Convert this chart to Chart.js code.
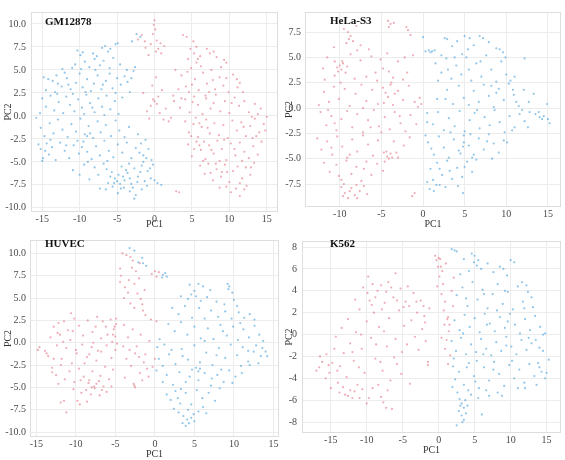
<!DOCTYPE html>
<html><head><meta charset="utf-8">
<script src="https://cdn.jsdelivr.net/npm/chart.js@4.4.1/dist/chart.umd.min.js"></script>
<style>
html,body{margin:0;padding:0;background:#fff;width:565px;height:460px;overflow:hidden}
.p{position:absolute}
.t{position:absolute;font:bold 11px "Liberation Serif",serif;color:#111;white-space:nowrap;line-height:12px}
</style></head><body>
<div class="p" style="left:0;top:0;width:283px;height:230px"><canvas id="c1"></canvas></div>
<div class="p" style="left:283px;top:0;width:282px;height:230px"><canvas id="c2"></canvas></div>
<div class="p" style="left:0;top:230px;width:283px;height:230px"><canvas id="c3"></canvas></div>
<div class="p" style="left:283px;top:230px;width:282px;height:230px"><canvas id="c4"></canvas></div>
<div class="t" id="t1" style="left:45px;top:15px"></div>
<div class="t" id="t2" style="left:330px;top:14px"></div>
<div class="t" id="t3" style="left:45px;top:237px"></div>
<div class="t" id="t4" style="left:330px;top:237px"></div>
<script>
const panelNames = ['GM12878','HeLa-S3','HUVEC','K562'];
const xTitle = 'PC1', yTitle = 'PC2';

const gmBlue = [[-10.3,7.1],[-9.6,6.9],[-9.9,6.6],[-7.0,7.4],[-6.6,7.6],[-5.9,7.3],[-5.2,7.8],[-4.9,7.9],[-6.2,7.0],[-3.0,8.1],[-8.2,6.8],
[-11.0,5.2],[-10.6,5.6],[-9.3,5.9],[-8.7,5.3],[-8.0,6.2],[-7.3,5.5],[-6.8,6.0],[-6.0,5.2],[-5.5,6.3],[-4.6,5.6],[-3.7,5.0],[-2.6,5.3],[-2.8,4.9],[-12.3,5.1],[-7.9,5.0],
[-14.8,4.2],[-14.2,4.0],[-13.6,3.8],[-13.1,4.4],[-12.4,3.2],[-11.7,4.1],[-11.2,2.9],[-10.5,3.6],[-10.0,4.6],[-9.6,3.1],[-9.0,4.0],[-8.5,2.7],[-8.1,3.5],[-7.6,4.4],[-7.1,2.9],[-6.5,3.8],[-6.0,4.6],[-5.6,3.0],[-5.0,4.1],[-4.5,3.4],[-4.0,4.3],[-3.6,3.7],[-3.1,4.1],[-14.5,2.8],[-13.3,2.6],[-12.0,4.7],[-9.2,2.6],[-6.9,3.4],
[-15.0,1.9],[-14.5,1.0],[-13.9,2.2],[-13.4,0.6],[-12.8,1.5],[-12.2,0.3],[-11.8,2.1],[-11.3,1.2],[-10.7,0.5],[-10.2,1.8],[-9.7,0.9],[-9.1,2.3],[-8.6,1.4],[-8.0,0.4],[-7.5,1.9],[-7.0,1.0],[-6.4,2.2],[-5.9,0.7],[-5.3,1.6],[-4.8,0.2],[-4.3,2.0],[-15.3,0.3],[-13.0,2.4],[-9.4,0.2],[-6.7,0.1],
[-15.8,-0.2],[-15.2,-1.3],[-14.7,-2.2],[-14.0,-0.8],[-13.5,-1.9],[-12.9,-0.4],[-12.3,-1.5],[-11.6,-2.3],[-11.1,-0.9],[-10.5,-1.7],[-9.9,-0.3],[-9.3,-2.0],[-8.8,-1.1],[-8.2,-2.4],[-7.6,-0.6],[-7.2,-1.8],[-6.5,-1.0],[-5.8,-2.2],[-5.2,-0.5],[-4.7,-1.6],[-4.0,-2.3],[-3.4,-1.2],[-8.6,-1.9],[-9.0,-2.2],
[-15.5,-3.1],[-15.2,-3.6],[-14.9,-4.6],[-14.4,-3.0],[-14.1,-4.2],[-13.7,-3.4],[-13.2,-4.8],[-12.6,-2.9],[-12.0,-3.8],[-11.4,-4.6],[-10.8,-3.2],[-10.1,-4.1],[-9.5,-2.8],[-9.0,-3.9],[-8.4,-4.7],[-7.8,-3.3],[-7.3,-4.3],[-6.7,-2.7],[-6.1,-3.8],[-5.5,-4.5],[-4.9,-3.1],[-4.3,-4.0],[-3.7,-2.9],[-3.1,-4.6],[-2.5,-3.5],[-1.8,-3.0],[-1.5,-4.3],[-1.2,-2.6],[-0.8,-3.6],[-0.4,-4.8],[-15.0,-4.9],
[-10.9,-5.9],[-10.0,-6.4],[-9.4,-5.3],[-8.7,-6.9],[-8.0,-5.6],[-7.5,-6.4],[-6.8,-5.2],[-6.2,-7.3],[-5.7,-6.1],[-5.3,-6.8],[-5.0,-7.1],[-4.8,-6.4],[-4.4,-5.5],[-4.0,-7.0],[-3.6,-6.2],[-3.1,-7.4],[-2.7,-5.7],[-2.2,-6.6],[-1.7,-5.4],[-1.3,-7.1],[-0.9,-6.0],[-0.5,-6.8],[-0.2,-5.3],[0.0,-7.0],[-5.4,-7.3],[-4.6,-7.4],
[-7.3,-7.9],[-6.5,-8.0],[-5.6,-7.7],[-4.9,-8.4],[-4.1,-7.8],[-3.3,-8.2],[-2.7,-9.0],[-2.5,-8.6],[-1.7,-8.0],[-1.0,-7.6],[0.4,-7.3],[0.9,-7.5],
[-2.4,8.9],[-1.9,8.6],
[-4.2,-6.6],[-3.8,-5.9],[-3.3,-6.8],[-2.9,-7.8],[-2.3,-7.2],[-1.9,-6.1],[-1.5,-5.0],[-1.1,-4.6],[-0.6,-5.7],[-4.5,-7.9],[-5.9,-6.6],[-6.4,-5.8],[-2.0,-4.0],[-3.4,-5.2],[-12.9,3.5],[-11.5,3.4],[-10.9,2.4],[-10.3,-2.7],[-9.7,-3.4],[-8.9,-5.0],[-11.8,-3.2],[-13.9,-2.6],[-14.6,-3.8],[-7.7,6.5],[-9.8,5.1],[-5.2,2.5],[-3.3,2.6],[-2.2,-2.0],[-6.3,-4.9],[-8.3,0.9]];

const gmRed = [[0.0,10.4],[-0.1,9.9],[0.1,9.4],[-0.2,8.9],[0.3,8.2],[-0.5,7.8],[0.5,7.3],[0.8,7.9],[-1.2,7.4],[-1.7,8.8],[-2.2,8.3],[-1.3,8.1],[0.9,6.8],[0.2,7.0],[-0.8,6.6],[1.3,7.6],
[0.0,1.6],[0.5,2.1],[-0.5,1.1],[-1.0,0.5],[1.5,0.8],[2.2,-0.2],[1.9,-0.6],[-1.5,2.5],[-0.3,3.3],[0.2,4.2],[0.3,1.3],[-0.2,1.8],[1.0,2.8],[-0.7,-0.3],[2.6,1.6],[1.2,-0.4],[0.7,0.3],
[3.8,8.8],[4.3,8.6],[5.2,8.1],[5.6,7.5],[4.8,7.3],[7.0,7.3],[7.4,6.8],[7.9,7.0],[9.3,6.1],[9.6,5.8],[4.5,6.2],[6.1,6.5],[5.3,6.8],[8.3,6.4],
[2.8,5.0],[3.6,4.4],[4.2,3.2],[4.9,5.2],[5.4,4.0],[5.9,2.8],[6.5,4.7],[7.0,3.5],[7.6,5.0],[8.1,2.9],[8.7,4.2],[9.2,3.3],[9.9,2.6],[10.5,4.5],[11.0,4.0],[11.4,3.6],[11.1,3.1],[6.2,5.4],[3.2,2.9],[4.6,2.6],[7.3,2.6],[8.9,5.3],
[2.5,2.2],[3.4,0.9],[4.1,1.8],[4.7,0.4],[5.3,2.1],[5.8,1.2],[6.4,0.2],[6.9,1.9],[7.5,0.8],[8.2,2.3],[8.8,0.5],[9.4,1.6],[10.0,0.3],[10.7,2.0],[11.3,1.1],[12.0,1.6],[12.6,0.4],[13.4,1.3],[14.2,0.8],[15.0,-0.1],[13.8,0.2],[5.1,1.5],[7.9,1.4],
[4.1,-0.6],[4.6,-1.8],[5.2,-0.9],[5.8,-2.3],[6.3,-1.2],[6.9,-0.4],[7.4,-1.9],[8.0,-0.8],[8.6,-2.1],[9.2,-1.0],[9.8,-2.4],[10.4,-0.5],[11.0,-1.6],[11.6,-0.7],[12.2,-2.2],[12.8,-1.1],[13.4,-0.3],[14.0,-1.8],[14.6,-0.9],[13.1,-2.4],[7.1,-1.3],[5.5,-0.2],
[4.5,-3.1],[5.0,-4.4],[5.6,-2.8],[6.2,-3.7],[6.8,-4.7],[7.3,-3.2],[7.9,-4.1],[8.4,-2.7],[9.0,-3.6],[9.6,-4.8],[10.2,-3.0],[10.8,-4.3],[11.4,-2.9],[12.0,-3.9],[12.6,-4.6],[13.2,-3.3],[13.8,-4.2],[14.3,-2.8],[6.5,-4.9],[8.7,-4.9],[11.7,-4.9],[5.3,-3.6],
[6.1,-5.4],[6.7,-6.3],[7.2,-5.2],[7.8,-7.0],[8.3,-5.8],[8.9,-6.6],[9.4,-5.3],[10.0,-7.2],[10.5,-6.0],[11.1,-5.5],[11.7,-6.8],[12.2,-5.6],[12.8,-6.4],[13.3,-5.1],[9.7,-6.1],[7.5,-6.2],
[9.6,-7.7],[10.2,-8.3],[10.9,-7.9],[11.4,-8.7],[12.0,-8.0],[12.3,-7.6],[2.9,-8.2],[3.3,-8.3],[8.7,-7.8],
[5.0,3.4],[5.6,5.8],[6.8,2.2],[7.8,3.9],[9.6,4.1],[6.0,-0.8],[6.6,-2.8],[7.6,-3.7],[8.2,-5.2],[9.3,-2.6],[10.7,-3.6],[11.9,-1.2],[12.9,-5.6],[13.6,-2.2],[14.8,-1.6],[10.3,1.4],[11.8,2.6],[13.0,-0.1],[4.4,4.8],[5.8,6.2],[9.0,-6.1],[11.4,-7.3],[6.0,-3.2],[4.9,-2.2],[3.6,1.9]];

const helaRed = [[-9.5,7.8],[-9.0,7.5],[-8.7,7.1],[-8.0,8.1],[-8.4,6.6],[-7.5,6.2],[-4.2,8.6],[-3.9,8.3],[-4.1,8.0],[-3.5,8.4],[-2.0,8.0],[-1.8,7.7],[-1.5,7.2],[-10.7,6.0],[-6.5,5.8],
[-11.5,5.0],[-10.6,4.6],[-10.0,4.2],[-9.8,3.8],[-9.6,4.4],[-9.3,3.5],[-10.2,3.6],[-8.7,5.3],[-8.2,2.9],[-7.5,4.7],[-6.8,3.1],[-6.2,5.1],[-5.5,2.7],[-4.8,3.9],[-4.3,5.4],[-3.6,3.0],[-3.0,4.6],[-2.4,2.8],[-1.9,3.5],[-1.2,5.2],[-11.8,2.8],[-12.0,3.9],[-7.9,5.7],[-5.1,4.8],[-3.8,2.5],
[-12.5,0.3],[-11.9,1.6],[-11.3,0.6],[-10.7,2.1],[-10.1,0.9],[-9.4,1.9],[-8.8,0.2],[-8.1,1.4],[-7.4,2.3],[-6.8,0.7],[-6.1,1.8],[-5.4,0.4],[-4.8,2.0],[-4.2,1.1],[-3.6,0.3],[-3.0,1.7],[-2.4,0.8],[-1.7,2.2],[-1.0,0.6],[-0.4,1.0],[-0.2,0.4],[-0.6,0.1],[-4.5,1.5],[-3.9,2.3],
[-12.3,-0.4],[-11.6,-1.7],[-11.0,-0.8],[-10.4,-2.2],[-9.8,-1.1],[-9.1,-0.3],[-8.5,-1.9],[-7.9,-0.6],[-7.2,-2.4],[-6.6,-1.2],[-5.9,-0.2],[-5.3,-1.8],[-4.6,-0.9],[-4.0,-2.1],[-3.4,-0.4],[-2.7,-1.5],[-2.1,-2.3],[-1.5,-0.7],[-0.8,-1.6],[-5.0,-2.4],
[-12.7,-3.0],[-12.2,-4.1],[-11.5,-3.3],[-10.9,-4.6],[-10.3,-2.8],[-9.7,-3.8],[-9.1,-4.9],[-8.5,-3.1],[-7.9,-4.3],[-7.2,-2.7],[-6.6,-3.6],[-6.0,-4.7],[-5.4,-3.2],[-4.7,-4.4],[-4.3,-4.8],[-3.9,-4.5],[-3.5,-3.3],[-3.0,-4.9],[-2.3,-3.7],[-1.6,-2.9],[-4.1,-5.0],[-8.8,-4.6],
[-11.9,-5.4],[-11.2,-6.3],[-10.4,-5.6],[-9.8,-7.1],[-9.2,-5.2],[-8.6,-6.5],[-8.0,-5.8],[-7.4,-7.2],[-6.8,-5.3],[-6.2,-6.6],[-5.5,-5.5],[-4.8,-6.2],[-10.1,-6.7],[-7.1,-6.0],
[-9.8,-7.8],[-9.4,-8.4],[-9.0,-8.9],[-8.6,-7.9],[-8.2,-8.6],[-7.6,-8.2],[-7.1,-7.7],[-6.7,-8.5],[-9.6,-8.7],[-8.0,-7.6],[-1.0,-8.4],[-1.3,-8.7],
[-10.3,4.0],[-9.7,4.6],[-9.1,4.1],[-10.6,3.2],[-9.9,2.5],[-4.4,-4.3],[-3.7,-4.9],[-3.2,-4.4],[-4.6,-5.3],[-3.4,1.4],[-4.1,3.6],[-4.7,0.5],[-2.8,-0.8],[-9.5,-7.5],[-8.8,-8.2],[-7.9,-8.9],[-11.0,-3.9],[-10.6,-1.5],[-11.4,-0.2],[-9.2,6.4],[-8.9,6.8],[-7.2,0.0],[-6.3,-1.9],[-5.7,3.5],[-2.2,5.0]];

const helaBlue = [[0.3,5.6],[0.7,5.7],[1.1,5.6],[1.4,5.7],[0.9,5.5],[2.6,6.9],[2.9,6.8],[4.1,6.6],[5.0,7.1],[5.6,6.9],[6.8,7.1],[7.2,6.9],[8.8,5.9],[9.2,5.8],[9.6,5.5],[6.1,6.2],[3.5,6.1],[7.9,6.5],[0.0,7.0],
[1.5,4.4],[2.2,3.5],[2.8,4.9],[3.4,2.9],[4.0,4.2],[4.6,3.3],[5.2,5.0],[5.8,2.7],[6.4,4.4],[7.0,3.1],[7.6,5.2],[8.2,3.8],[8.8,2.6],[9.4,4.6],[10.0,3.3],[10.5,2.7],[11.0,3.1],[12.2,4.9],[3.0,3.8],[1.8,2.7],[5.5,3.8],[4.7,5.3],
[1.7,0.9],[2.9,1.8],[3.6,0.4],[4.3,2.2],[4.9,1.0],[5.5,0.3],[6.1,1.7],[6.7,0.6],[7.3,2.3],[7.9,1.2],[8.5,0.1],[9.1,1.9],[9.7,0.8],[10.3,2.4],[10.9,1.3],[11.5,0.2],[12.1,1.8],[12.7,0.6],[13.3,1.4],[14.9,0.4],[8.8,1.5],[11.2,0.6],
[0.5,-0.5],[1.2,-1.6],[1.8,-0.4],[2.5,-2.2],[3.1,-1.0],[3.8,-1.8],[4.4,-0.3],[5.0,-2.3],[5.6,-1.2],[6.2,-0.5],[6.8,-2.0],[7.4,-0.9],[8.0,-1.7],[8.6,-0.2],[9.2,-1.4],[9.8,-2.4],[10.4,-0.8],[11.0,-1.9],[11.6,-0.6],[12.2,-1.3],[12.8,-0.4],[13.5,-0.6],[14.0,-0.9],[14.5,-0.8],[15.2,-1.5],[15.0,-1.1],[10.7,-2.2],
[0.6,-3.4],[1.3,-4.6],[1.9,-2.8],[2.5,-3.9],[3.1,-4.9],[3.7,-3.1],[4.3,-4.2],[4.9,-2.7],[5.5,-3.7],[6.1,-4.6],[6.7,-3.0],[7.3,-4.1],[7.9,-2.6],[8.5,-3.5],[9.1,-4.4],[9.7,-3.2],[0.3,-2.7],[4.8,-3.8],[5.9,-4.9],
[0.5,-7.3],[1.2,-7.1],[0.9,-6.0],[1.7,-5.4],[2.3,-6.6],[2.9,-5.2],[3.5,-7.0],[4.1,-5.9],[4.7,-6.8],[5.3,-5.3],[5.9,-6.3],[6.4,-5.1],[3.2,-6.2],
[0.8,-8.0],[1.3,-8.2],[2.0,-7.6],[4.8,-8.4],[2.7,-7.8],[4.2,-7.7],
[2.2,5.2],[3.8,5.0],[5.4,5.8],[6.9,4.6],[9.9,5.0],[10.8,1.8],[11.9,-0.2],[13.9,-0.4],[14.3,-1.1],[12.6,-1.9],[10.1,-3.4],[8.3,-5.0],[5.0,-5.8],[4.5,-4.5],[4.9,-3.4],[5.7,-2.6],[3.3,-2.4],[1.0,-4.0],[2.0,-6.0],[1.6,-7.6],[2.7,0.9],[6.5,-0.2],[8.2,2.2],[7.7,-3.3],[0.5,-1.4]];

const huvecRed = [[-14.6,-0.5],[-14.8,-0.8],[-13.7,-1.2],[-13.9,-0.9],[-13.5,-1.5],[-13.2,0.6],[-12.8,1.8],[-12.2,2.2],[-11.5,2.4],[-11.0,1.4],[-10.6,3.3],[-10.2,2.7],[-9.6,1.9],[-9.1,0.8],[-8.5,2.5],[-7.9,1.2],[-7.3,2.9],[-6.8,0.5],[-6.2,1.8],[-5.6,2.6],[-5.2,1.5],[-5.0,0.7],[-5.4,0.1],[-4.9,2.1],[-12.4,-0.3],[-11.8,-1.8],[-11.2,-0.6],[-10.5,-2.3],[-9.9,-1.2],[-9.2,-0.2],[-8.6,-1.6],[-8.0,-0.5],[-7.4,-2.0],[-6.8,-1.0],[-6.1,-0.3],[-5.5,-1.7],[-5.0,-0.8],[-13.0,-2.8],[-12.5,-3.6],[-11.9,-2.5],[-11.4,-4.1],[-10.8,-3.2],[-10.2,-4.4],[-9.6,-2.9],[-9.0,-3.8],[-8.4,-4.5],[-7.9,-3.2],[-7.4,-4.6],[-6.9,-3.7],[-6.3,-2.7],[-5.8,-4.1],[-5.3,-3.0],[-8.7,-5.3],[-8.1,-5.8],[-7.6,-5.1],[-7.0,-5.9],[-6.5,-4.9],[-9.3,-5.6],[-9.8,-6.5],[-9.5,-6.9],[-8.6,-6.6],[-11.5,-6.5],[-11.9,-6.7],[-11.2,-7.8],[-10.3,-5.2],[-12.2,-4.6],[-13.0,-3.3],[-6.1,-5.5],[-5.5,-4.9],[-7.2,-0.9],[-10.7,0.3],[-8.3,-1.3],[-12.0,0.9],[-7.8,0.0],
[-4.1,10.0],[-3.6,9.8],[-3.1,9.6],[-2.8,9.2],[-4.4,8.3],[-4.3,7.5],[-4.4,6.8],[-3.8,6.2],[-3.4,5.6],[-2.6,6.6],[-2.2,5.5],[-1.8,4.9],[-3.1,4.4],[-2.6,3.9],[-1.6,4.3],[-1.2,3.1],[-0.5,2.6],[0.2,2.4],[-2.0,7.2],[-2.9,8.4],[-1.9,8.9],[-1.5,3.6],[-3.9,5.0],
[-3.9,2.0],[-3.4,0.6],[-2.8,1.5],[-2.3,-0.4],[-1.8,0.9],[-1.2,-1.3],[-0.7,0.2],[-3.6,-1.8],[-3.0,-2.6],[-2.5,-1.2],[-1.9,-3.4],[-1.4,-2.2],[-0.8,-3.8],[-3.8,-3.9],[-2.7,-4.6],[-2.5,-5.0],[-2.6,-4.8],[-1.6,-4.2],[-0.3,-2.7],[-4.0,-0.4],[0.0,-1.8],
[0.0,8.0],[0.5,7.9],[0.2,7.4],[-0.4,7.7],
[-8.3,-4.2],[-7.7,-4.9],[-7.1,-4.3],[-6.7,-5.3],[-8.0,-5.0],[-5.1,1.8],[-4.9,2.7],[-5.3,0.9],[-4.8,-0.1],[-12.8,-1.8],[-11.6,0.1],[-10.0,-0.8],[-9.4,-4.2],[-6.6,2.4],[-3.2,-0.8],[-2.0,-1.6],[-1.0,-2.9],[-3.3,7.0],[-2.4,8.0],[-1.3,5.9],[-12.3,1.1],[-10.4,1.3],[-6.0,0.9],[-8.9,-2.3],[-7.5,1.8]];

const huvecBlue = [[-3.2,10.6],[-2.6,10.3],[-1.6,9.5],[-2.1,9.0],[-1.1,8.6],[-1.5,8.9],[1.0,7.6],[1.3,7.8],[1.5,7.4],[0.9,7.3],
[4.4,6.5],[5.5,6.6],[6.1,6.3],[5.0,5.8],[7.0,5.9],[9.2,6.6],[9.4,6.3],[9.3,6.0],[3.3,5.2],[4.2,4.9],[5.2,5.2],[6.6,5.1],[7.8,4.6],[8.8,4.3],[10.0,4.8],[10.4,4.1],[2.2,3.9],[3.0,3.2],[3.8,4.1],[4.7,2.8],[5.6,3.9],[6.3,2.7],[7.1,3.6],[8.0,2.9],[8.9,3.5],[9.7,2.7],[10.6,3.4],[11.3,2.8],[12.0,3.2],[12.6,2.6],[1.7,2.1],[2.5,1.3],[3.3,2.3],[4.1,0.9],[5.0,1.8],[5.8,0.5],[6.7,1.6],[7.4,0.4],[8.3,2.0],[9.1,0.8],[9.9,1.8],[10.5,0.3],[11.2,1.5],[11.9,0.6],[12.6,1.9],[13.2,0.9],[13.7,0.2],[1.2,-0.2],[0.3,-0.5],[0.5,-1.8],[1.0,-2.6],[0.2,-3.1],[1.8,-1.3],[2.6,-2.4],[3.4,-0.7],[4.2,-1.9],[5.0,-0.3],[5.7,-2.2],[6.5,-1.1],[7.3,-2.5],[8.1,-0.6],[8.9,-1.7],[9.6,-0.2],[10.4,-1.4],[11.1,-0.5],[11.8,-2.1],[12.5,-1.0],[13.1,-2.3],[13.6,-0.6],[14.0,-1.0],[14.2,-1.5],[12.0,-2.5],[1.5,-3.6],[2.3,-4.7],[3.1,-3.3],[3.9,-4.4],[4.7,-3.0],[5.5,-4.2],[6.3,-3.4],[7.1,-4.8],[7.9,-3.6],[8.7,-4.4],[9.4,-3.1],[10.2,-3.8],[11.0,-3.4],[5.2,-2.8],[5.7,-2.9],[1.5,-5.8],[2.0,-6.4],[2.6,-5.4],[3.2,-6.8],[3.9,-5.6],[4.6,-6.9],[5.3,-5.3],[6.0,-6.2],[6.8,-5.6],[7.6,-6.5],[8.2,-5.1],[2.4,-7.4],[3.0,-7.8],[3.6,-8.2],[4.2,-7.5],[4.9,-8.0],[5.5,-7.7],[3.5,-9.0],[3.9,-9.3],[4.3,-9.0],[5.0,-8.8],[6.5,-7.9],
[4.6,5.4],[5.8,4.7],[9.8,5.6],[10.8,2.2],[11.8,-0.9],[12.8,-0.3],[13.4,-1.5],[10.9,-2.6],[9.8,-4.5],[8.4,-3.0],[5.5,-3.2],[4.4,-3.8],[3.3,-5.2],[2.9,-6.2],[4.1,-8.6],[4.6,-8.4],[6.3,0.2],[7.8,-1.4],[2.1,-0.8],[1.0,-4.4],[0.6,0.4],[8.6,1.3],[3.5,-1.5],[6.1,-7.2],[7.2,-4.0]];

const k562Red = [[-17.0,-3.3],[-16.6,-3.0],[-16.2,-2.5],[-16.5,-2.0],[-15.7,-4.0],[-15.6,-1.8],[-15.2,-3.5],[-15.0,-4.9],[-14.8,-2.6],[-14.5,-1.3],[-14.3,-0.2],[-14.0,-4.4],[-13.7,-2.9],[-13.5,0.6],[-13.2,-1.7],[-13.0,-5.5],[-12.8,-3.9],[-12.6,1.4],[-12.3,-0.8],[-12.0,-5.8],[-11.8,-2.4],[-11.5,0.2],[-11.3,-4.6],[-11.0,2.3],[-11.0,-5.8],[-10.7,-1.3],[-10.5,4.3],[-10.3,-3.5],[-10.0,-6.3],[-10.0,1.2],[-9.8,5.3],[-9.6,3.1],[-9.4,-0.3],[-9.2,-4.9],[-9.0,2.0],[-8.8,-2.2],[-8.5,4.0],[-8.3,0.7],[-8.0,4.5],[-8.0,-5.7],[-7.8,-3.3],[-7.5,2.9],[-7.3,-6.7],[-7.2,-1.1],[-7.0,4.8],[-6.9,1.5],[-6.7,-4.2],[-6.5,-6.8],[-6.3,3.4],[-6.0,5.6],[-6.0,-0.4],[-5.8,-2.7],[-5.5,2.2],[-5.3,4.2],[-5.1,-1.6],[-4.8,0.8],[-4.6,3.0],[-4.4,-0.9],[-4.1,2.6],[-4.0,-4.5],[-3.8,1.3],[-3.5,3.8],[-3.3,-0.2],[-3.0,2.0],[-2.8,-1.4],[-2.5,3.1],[-2.3,0.5],[-2.0,1.7],[-1.8,-0.6],[-1.5,-2.5],[-1.5,-2.8],[-1.3,2.4],[-12.3,-5.1],[-13.8,-5.3],[-11.6,3.2],[-9.3,2.7],[-8.7,-0.9],[-7.6,0.3],[-5.2,-3.6],[-6.2,-2.1],[-10.8,0.0],
[-0.5,7.2],[0.0,7.0],[-0.3,6.8],[0.3,6.2],[0.1,5.3],[0.6,4.6],[0.4,3.7],[0.9,3.0],[0.7,2.2],[1.2,1.4],[1.5,0.9],[1.4,0.3],[1.1,-0.5],[0.9,-1.3],[1.6,-1.9],[0.5,5.8],[1.8,4.0],[2.1,5.2],[1.0,6.5],[-0.2,4.4],[1.3,-2.7],[2.0,2.6],
[-13.3,-4.8],[-12.6,-5.6],[-11.7,-5.2],[-10.6,-5.0],[-9.7,-5.8],[-8.4,-4.6],[-7.7,-6.2],[-7.1,-5.1],[-9.9,3.8],[-9.2,4.6],[-8.8,3.4],[-7.9,2.3],[-7.3,3.9],[-6.6,4.3],[-5.8,3.1],[-4.9,2.5],[-4.3,4.4],[-3.1,3.0],[-2.1,2.6],[-1.9,1.1],[-14.1,-3.3],[-15.3,-2.8],[-12.0,-1.6],[-11.1,-3.0],[-8.1,-2.5],[0.8,0.9],[1.3,1.6],[0.4,-0.3],[-0.1,6.2],[0.2,6.9]];

const k562Blue = [[1.8,7.8],[2.2,7.7],[2.5,7.6],[4.6,7.4],[5.0,7.2],[5.5,6.8],[5.3,6.3],[8.5,6.2],[9.0,6.0],[10.0,6.8],[10.5,6.6],[3.5,6.9],[6.8,6.5],[7.6,5.7],[3.0,5.5],[4.2,5.8],
[2.5,3.6],[3.3,4.3],[4.0,2.6],[4.7,4.8],[5.4,3.2],[6.1,4.1],[6.8,2.4],[7.5,3.7],[8.2,4.6],[8.9,2.8],[9.6,3.9],[10.3,2.3],[11.0,4.4],[11.7,3.0],[12.4,3.9],[13.1,2.5],[6.3,3.7],[9.2,4.0],[12.2,4.5],[3.8,3.3],
[2.2,1.3],[2.9,0.4],[3.6,1.8],[4.3,0.7],[5.0,1.5],[5.7,0.2],[6.4,1.9],[7.1,1.0],[7.8,0.3],[8.5,1.6],[9.2,0.6],[9.9,1.9],[10.6,0.9],[11.3,0.1],[12.0,1.4],[12.7,0.4],[13.4,1.7],[14.1,0.7],[14.8,0.1],[3.4,0.1],[9.6,1.2],
[1.8,-0.6],[2.4,-1.5],[3.1,-0.3],[3.8,-1.8],[4.5,-0.9],[5.2,-1.6],[5.9,-0.4],[6.6,-1.3],[7.3,-1.9],[8.0,-0.7],[8.7,-1.5],[9.4,-0.2],[10.1,-1.1],[10.8,-1.8],[11.5,-0.5],[12.2,-1.4],[12.9,-0.8],[13.5,-0.5],[14.0,-1.2],[14.5,-1.5],[14.5,0.0],[6.2,-1.8],
[2.0,-2.9],[2.3,-4.1],[1.9,-4.8],[2.8,-3.4],[3.5,-4.6],[4.2,-2.6],[4.9,-3.8],[5.6,-4.9],[6.3,-3.0],[7.0,-4.2],[7.7,-2.5],[8.4,-3.6],[9.1,-4.7],[9.8,-2.8],[10.5,-4.0],[11.2,-3.2],[11.9,-4.4],[12.6,-2.7],[13.3,-3.8],[14.0,-3.0],[14.8,-4.0],[15.0,-3.5],[15.3,-2.3],[12.0,-4.9],[5.3,-2.4],
[3.0,-6.5],[3.5,-6.7],[3.8,-7.2],[3.5,-7.8],[3.3,-8.0],[2.5,-8.3],[4.0,-6.5],[6.0,-7.3],[4.5,-5.5],[5.5,-5.8],[7.0,-5.6],[8.2,-5.3],[2.9,-5.9],[3.2,-6.3],[2.8,-7.0],
[4.9,6.6],[5.9,6.0],[9.5,5.4],[11.6,4.8],[12.9,3.4],[13.8,-2.6],[14.3,-3.4],[13.6,-4.6],[11.0,-4.9],[8.8,-5.6],[6.6,-5.1],[5.1,-4.3],[4.1,-5.1],[3.9,-3.0],[2.6,-5.3],[3.2,-7.4],[3.7,-6.0],[6.7,0.9],[8.1,2.2],[10.2,-2.4],[11.9,2.4],[12.5,-0.3],[2.1,-2.2],[7.6,-3.2],[9.4,-1.0]];

const RED = 'rgba(226,112,128,0.58)';
const BLUE = 'rgba(66,156,218,0.58)';
const GRID = '#ececec';
const FRAME = '#dedede';
const SERIF = '"Liberation Serif", "DejaVu Serif", serif';

const framePlugin = {
  id: 'frame',
  afterDraw(chart) {
    const a = chart.chartArea, c = chart.ctx;
    c.save(); c.strokeStyle = FRAME; c.lineWidth = 1;
    c.strokeRect(Math.round(a.left) + 0.5, Math.round(a.top) + 0.5, Math.round(a.right - a.left) - 1, Math.round(a.bottom - a.top) - 1);
    c.restore();
  }
};

function toPts(arr){ return arr.map(p => ({x: p[0], y: p[1]})); }

function panel(id, blue, red, o) {
  const tickFont = {family: SERIF, size: 10};
  const titleFont = {family: SERIF, size: 10};
  new Chart(document.getElementById(id), {
    type: 'scatter',
    data: {datasets: [
      {data: toPts(blue), backgroundColor: BLUE, pointRadius: 1.1, borderWidth: 0, pointHoverRadius: 1.1},
      {data: toPts(red), backgroundColor: RED, pointRadius: 1.1, borderWidth: 0, pointHoverRadius: 1.1}
    ]},
    options: {
      animation: false, responsive: true, maintainAspectRatio: false, events: [],
      layout: {padding: {top: o.top, right: o.right, left: 0, bottom: 0}},
      plugins: {legend: {display: false}, tooltip: {enabled: false}},
      scales: {
        x: {type: 'linear', min: o.xmin, max: o.xmax,
          ticks: {stepSize: 5, includeBounds: false, autoSkip: false, maxRotation: 0, font: tickFont, color: '#4a4a4a', padding: 1},
          grid: {color: GRID, drawTicks: false}, border: {display: false},
          title: {display: true, text: xTitle, font: titleFont, color: '#333', padding: {top: 0, bottom: o.xtb}},
          afterFit: s => { s.height = o.xh; }
        },
        y: {type: 'linear', min: o.ymin, max: o.ymax,
          ticks: {stepSize: o.ystep, includeBounds: false, autoSkip: false, font: tickFont, color: '#4a4a4a', padding: o.ypad,
            callback: v => o.ydec ? Number(v).toFixed(1) : String(v)},
          grid: {color: GRID, drawTicks: false}, border: {display: false},
          title: {display: true, text: yTitle, font: titleFont, color: '#333', padding: {top: o.ytp, bottom: 0}},
          afterFit: s => { s.width = o.yw; }
        }
      }
    },
    plugins: [framePlugin]
  });
}

panel('c1', gmBlue, gmRed, {xmin: -16.5, xmax: 16.5, ymin: -10.45, ymax: 11.3, ystep: 2.5, ydec: true, top: 12, right: 5, yw: 31, xh: 18, ypad: 5, ytp: 2, xtb: 0});
panel('c2', helaBlue, helaRed, {xmin: -14.17, xmax: 16.57, ymin: -9.77, ymax: 9.48, ystep: 2.5, ydec: true, top: 12, right: 4, yw: 22, xh: 23, ypad: 4, ytp: 0, xtb: 0});
panel('c3', huvecBlue, huvecRed, {xmin: -15.8, xmax: 15.7, ymin: -10.55, ymax: 11.5, ystep: 2.5, ydec: true, top: 6, right: 4, yw: 30, xh: 23, ypad: 4, ytp: 2, xtb: 0});
panel('c4', k562Blue, k562Red, {xmin: -19.0, xmax: 17.0, ymin: -9.0, ymax: 8.55, ystep: 2, ydec: false, top: 7, right: 4, yw: 19, xh: 27, ypad: 5, ytp: 0, xtb: 4});

panelNames.forEach((n, i) => { document.getElementById('t' + (i + 1)).textContent = n; });
</script>
</body></html>
